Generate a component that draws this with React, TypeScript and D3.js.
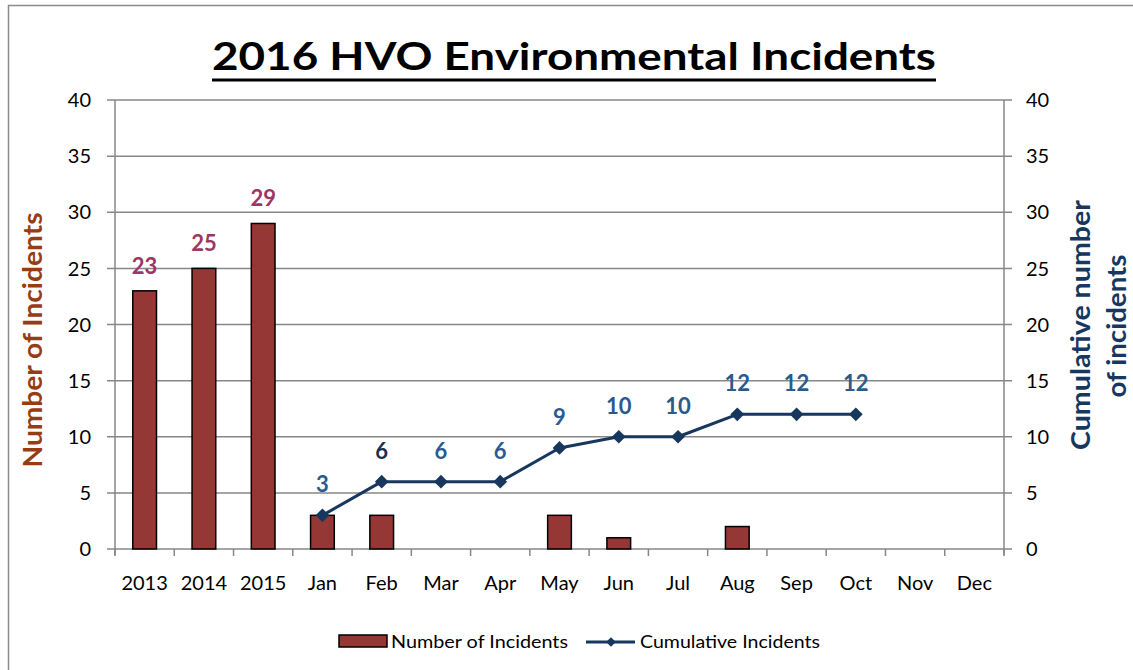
import * as d3 from "d3";

const WIDTH = 1133;
const HEIGHT = 670;
const PLOT = { left: 115, right: 1004, top: 100, bottom: 549 };

const categories = ["2013", "2014", "2015", "Jan", "Feb", "Mar", "Apr", "May", "Jun", "Jul", "Aug", "Sep", "Oct", "Nov", "Dec"];
const incidents: (number | null)[] = [23, 25, 29, 3, 3, null, null, 3, 1, null, 2, null, null, null, null];
const cumulative: (number | null)[] = [null, null, null, 3, 6, 6, 6, 9, 10, 10, 12, 12, 12, null, null];
const yTicks = [0, 5, 10, 15, 20, 25, 30, 35, 40];

const FONT = "Lato, 'Open Sans', sans-serif";
const BAR_FILL = "#953735";
const LINE_COLOR = "#17375E";
const BAR_LABEL = "#9B3666";
const LINE_LABEL = "#2A5A8E";
const GRID = "#878787";

export default function App() {
  const x = d3.scaleBand<string>().domain(categories).range([PLOT.left, PLOT.right]).paddingInner(0).paddingOuter(0);
  const yLeft = d3.scaleLinear().domain([0, 40]).range([PLOT.bottom, PLOT.top]);
  const yRight = d3.scaleLinear().domain([0, 40]).range([PLOT.bottom, PLOT.top]);
  const bw = x.bandwidth();
  const barW = bw * 0.4;
  const cx = (c: string) => (x(c) ?? 0) + bw / 2;

  const linePts = categories
    .map((c, i) => ({ c, v: cumulative[i] }))
    .filter((d) => d.v !== null) as { c: string; v: number }[];

  const linePath =
    d3
      .line<{ c: string; v: number }>()
      .x((d) => cx(d.c))
      .y((d) => yRight(d.v))(linePts) ?? "";

  const diamond = d3.symbol().type(d3.symbolDiamond2).size(120)() ?? "";
  const boundaries = categories.map((c) => x(c) ?? 0).concat([PLOT.right]);

  return (
    <div style={{ position: "absolute", left: 0, top: 0 }}>
      <svg width={WIDTH} height={HEIGHT} style={{ display: "block", fontFamily: FONT }}>
        <rect x={0} y={0} width={WIDTH} height={HEIGHT} fill="#fff" />
        <rect x={8.5} y={5.5} width={WIDTH} height={HEIGHT} fill="none" stroke="#8a8a8a" strokeWidth={1.5} />

        {/* title */}
        <text x={574} y={70} textAnchor="middle" fontSize={38} fontWeight="bold" fill="#000" textLength={724} lengthAdjust="spacingAndGlyphs">
          2016 HVO Environmental Incidents
        </text>
        <line x1={212} x2={936} y1={80} y2={80} stroke="#000" strokeWidth={3} />

        {/* grid */}
        {yTicks.map((t) => (
          <g key={t}>
            <line x1={PLOT.left - 8} x2={PLOT.right + 8} y1={yLeft(t)} y2={yLeft(t)} stroke={GRID} strokeWidth={1.5} />
            <text x={91} y={yLeft(t)} dy="0.36em" textAnchor="end" fontSize={20} fill="#000">
              {t}
            </text>
            <text x={1026} y={yRight(t)} dy="0.36em" textAnchor="start" fontSize={20} fill="#000">
              {t}
            </text>
          </g>
        ))}

        {/* axes */}
        <line x1={PLOT.left} x2={PLOT.left} y1={PLOT.top} y2={PLOT.bottom + 6} stroke={GRID} strokeWidth={1.5} />
        <line x1={PLOT.right} x2={PLOT.right} y1={PLOT.top} y2={PLOT.bottom + 6} stroke={GRID} strokeWidth={1.5} />
        {boundaries.map((b, i) => (
          <line key={i} x1={b} x2={b} y1={PLOT.bottom} y2={PLOT.bottom + 7} stroke={GRID} strokeWidth={1.5} />
        ))}
        {categories.map((c) => (
          <text key={c} x={cx(c)} y={590} textAnchor="middle" fontSize={20} fill="#000">
            {c}
          </text>
        ))}

        {/* bars */}
        {categories.map((c, i) => {
          const v = incidents[i];
          if (v === null) return null;
          return (
            <rect
              key={c}
              x={cx(c) - barW / 2}
              y={yLeft(v)}
              width={barW}
              height={PLOT.bottom - yLeft(v)}
              fill={BAR_FILL}
              stroke="#000"
              strokeWidth={1.5}
            />
          );
        })}
        {categories.map((c, i) => {
          const v = incidents[i];
          if (v === null || i > 2) return null;
          return (
            <text key={c} x={cx(c)} y={yLeft(v) - 17} textAnchor="middle" fontSize={22} fontWeight="bold" fill={BAR_LABEL}>
              {v}
            </text>
          );
        })}

        {/* cumulative line */}
        <path d={linePath} fill="none" stroke={LINE_COLOR} strokeWidth={3} strokeLinejoin="round" />
        {linePts.map((d) => (
          <path key={d.c} d={diamond} transform={`translate(${cx(d.c)},${yRight(d.v)})`} fill={LINE_COLOR} />
        ))}
        {linePts.map((d) => (
          <text
            key={d.c}
            x={cx(d.c)}
            y={yRight(d.v) - 23}
            textAnchor="middle"
            fontSize={22}
            fontWeight="bold"
            fill={d.c === "Feb" ? "#1C2E4A" : LINE_LABEL}
          >
            {d.v}
          </text>
        ))}

        {/* axis titles */}
        <text transform="translate(42,340) rotate(-90)" textAnchor="middle" fontSize={27} fontWeight="bold" fill="#983C13" textLength={255} lengthAdjust="spacingAndGlyphs">
          Number of Incidents
        </text>
        <text transform="translate(1090,325) rotate(-90)" textAnchor="middle" fontSize={26} fontWeight="bold" fill={LINE_COLOR} textLength={250} lengthAdjust="spacingAndGlyphs">
          Cumulative number
        </text>
        <text transform="translate(1126,326) rotate(-90)" textAnchor="middle" fontSize={26} fontWeight="bold" fill={LINE_COLOR} textLength={143} lengthAdjust="spacingAndGlyphs">
          of incidents
        </text>

        {/* legend */}
        <rect x={339} y={635} width={48} height={12} fill={BAR_FILL} stroke="#000" strokeWidth={1.5} />
        <text x={391} y={648} fontSize={18} fill="#000" textLength={177} lengthAdjust="spacingAndGlyphs">
          Number of Incidents
        </text>
        <line x1={586} x2={635} y1={642} y2={642} stroke={LINE_COLOR} strokeWidth={3} />
        <path d={diamond} transform="translate(611,642) scale(0.7)" fill={LINE_COLOR} />
        <text x={640} y={648} fontSize={18} fill="#000" textLength={180} lengthAdjust="spacingAndGlyphs">
          Cumulative Incidents
        </text>
      </svg>
    </div>
  );
}
